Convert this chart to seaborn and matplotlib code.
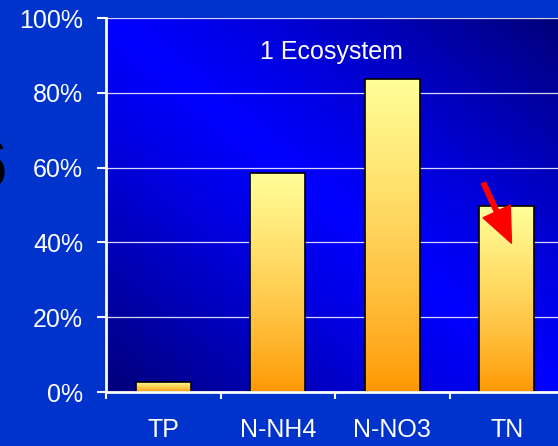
import numpy as np
import pandas as pd
import matplotlib.pyplot as plt
import seaborn as sns

# data
categories = ["TP", "N-NH4", "N-NO3", "TN"]
percent = [2.7, 58.6, 83.8, 49.7]
y_ticks = [0, 20, 40, 60, 80, 100]
title_text = "1 Ecosystem"

plt.rcParams['font.family'] = ['Liberation Sans', 'DejaVu Sans']

fig_bg = "#0033cc"
fig = plt.figure(figsize=(5.58, 4.46), dpi=100, facecolor=fig_bg)
ax = fig.add_axes([0.19, 0.121, 0.821, 0.8386])
ax.set_facecolor("none")

df = pd.DataFrame({"cat": categories, "val": percent})
sns.barplot(data=df, x="cat", y="val", width=0.48, ax=ax, color="orange",
            edgecolor="black", linewidth=1.2, zorder=3)

# plot area background: dark corners (bottom-left / top-right), bright diagonal
vis = 452 / 458  # part of the axes width that is inside the figure
nx, ny = 300, 200
xx, yy = np.meshgrid(np.linspace(0, 1, nx), np.linspace(0, 1, ny))
u = (xx / vis + yy) / 2
t = np.clip(np.abs(u - 0.5) * 2, 0, 1) ** 1.2
bright = np.array([0, 0, 255]) / 255
dark = np.array([0, 0, 120]) / 255
bg = bright[None, None, :] * (1 - t[..., None]) + dark[None, None, :] * t[..., None]
ax.imshow(bg, extent=[0, 1, 0, 1], transform=ax.transAxes, aspect="auto",
          origin="lower", zorder=0)

# bar gradient, yellow on top to orange at the bottom
top_c = np.array([255, 255, 153]) / 255
bot_c = np.array([255, 150, 0]) / 255
g = np.linspace(0, 1, 100)[:, None] ** 0.8
grad = bot_c[None, None, :] * (1 - g[..., None]) + top_c[None, None, :] * g[..., None]
for p in ax.patches:
    x0, w, h = p.get_x(), p.get_width(), p.get_height()
    p.set_facecolor("none")
    im = ax.imshow(grad, extent=[x0, x0 + w, 0, h], origin="lower",
                   aspect="auto", zorder=2)
    im.set_clip_path(p)

ax.grid(False)
for yv in y_ticks[1:]:
    ax.axhline(yv, color="white", lw=0.9, alpha=0.85, zorder=1)

ax.set_xlim(-0.5, 3.5)
ax.set_ylim(0, 100)
ax.set_yticks(y_ticks)
ax.set_yticklabels([f"{v}%" for v in y_ticks])
ax.set_xlabel("")
ax.set_ylabel("")

for side in ["top", "right"]:
    ax.spines[side].set_visible(False)
for side in ["left", "bottom"]:
    ax.spines[side].set_color("white")
    ax.spines[side].set_linewidth(2)
    ax.spines[side].set_zorder(4)

ax.tick_params(axis="y", colors="white", labelsize=18, length=6.5, width=1.5,
               pad=10)
ax.tick_params(axis="x", which="major", colors="white", labelsize=18,
               length=0, pad=19)
ax.set_xticks([-0.5, 0.5, 1.5, 2.5], minor=True)
ax.tick_params(axis="x", which="minor", colors="white", length=5, width=1.5)

ax.text(1.47, 90.9, title_text, color="white", fontsize=18,
        ha="center", va="center", zorder=5)

ax.annotate("", xy=(3.04, 39.8), xytext=(2.795, 55.9),
            arrowprops=dict(arrowstyle="simple,head_length=1.05,head_width=0.9,tail_width=0.14",
                            color="red", shrinkA=0, shrinkB=0, mutation_scale=24),
            zorder=6)

# cut-off glyph from the slide at the left edge
fig.text(0.012, 0.619, "6", color="black", fontsize=50, ha="right", va="center")

fig.savefig("out.png", dpi=100, facecolor=fig_bg)
